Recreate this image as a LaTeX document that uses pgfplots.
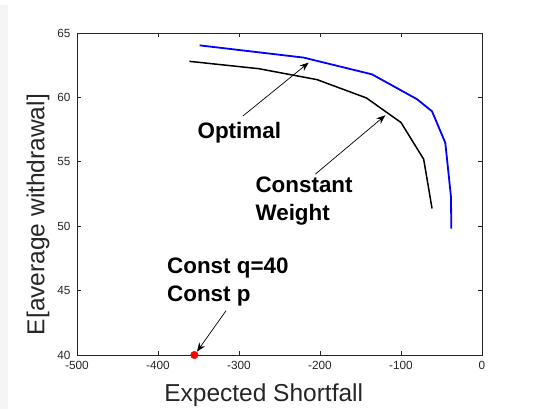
\documentclass[border=0pt]{standalone}
\usepackage{fontspec}
\setmainfont{Liberation Sans}
\usepackage{pgfplots}
\pgfplotsset{compat=1.18}
\usetikzlibrary{arrows.meta}

\definecolor{axgray}{RGB}{38,38,38}

\begin{document}
\begin{tikzpicture}
\begin{axis}[
    scale only axis,
    width=405pt, height=322pt,
    xmin=-500, xmax=0,
    ymin=40, ymax=65,
    xtick={-500,-400,...,0},
    ytick={40,45,...,65},
    major tick length=4pt,
    tick style={axgray, line width=0.6pt},
    axis line style={axgray, line width=0.8pt},
    /pgf/number format/assume math mode=true,
    ticklabel style={font=\fontsize{11.8}{12}\selectfont, text=axgray},
    xticklabel style={yshift=-3pt},
    yticklabel style={xshift=-3pt},
    xlabel={Expected Shortfall},
    ylabel={E[average withdrawal]},
    label style={font=\fontsize{24.5}{26}\selectfont, text=axgray},
    x label style={at={([yshift=-40pt]axis description cs:0.461,0)}, anchor=center},
    y label style={at={([xshift=-39pt]axis description cs:0,0.436)}, anchor=center},
    clip=false,
]
% Optimal
\addplot[blue, line width=1.8pt] coordinates {
    (-348.6,64.04) (-220.2,63.09) (-135.8,61.79) (-80.2,59.86)
    (-61.7,58.92) (-45.3,56.47) (-38.3,52.28) (-37.9,49.82)
};
% Constant weight
\addplot[black, line width=1.5pt] coordinates {
    (-361.3,62.80) (-275.7,62.23) (-203.7,61.38) (-142.8,59.96)
    (-100.0,58.05) (-72.0,55.20) (-61.7,51.38)
};
% Const q / Const p
\addplot[only marks, mark=*, red, mark size=3.8pt] coordinates {(-355.1,40)};

\draw[-{Stealth[length=9pt,width=7pt]}, line width=0.7pt] (axis cs:-295.1,58.56) -- (axis cs:-214.0,62.70);
\draw[-{Stealth[length=9pt,width=7pt]}, line width=0.7pt] (axis cs:-205.8,54.04) -- (axis cs:-119.3,58.61);
\draw[-{Stealth[length=9pt,width=7pt]}, line width=0.7pt] (axis cs:-316.0,43.44) -- (axis cs:-351.9,40.26);

\node[font=\bfseries\fontsize{22.4}{27.7}\selectfont, anchor=center] at (axis cs:-299.6,57.24) {Optimal};
\node[font=\bfseries\fontsize{22.4}{27.7}\selectfont, anchor=west, align=left, inner sep=0pt] at (axis cs:-279.8,51.93) {Constant\\Weight};
\node[font=\bfseries\fontsize{22.4}{27.7}\selectfont, anchor=west, align=left, inner sep=0pt] at (axis cs:-388.9,45.65) {Const q=40\\Const p};
\end{axis}
% faint window edge on the left
\fill[black!4] ([shift={(-77pt,-54pt)}]current axis.south west) rectangle ([shift={(-69pt,28pt)}]current axis.north west);
\path ([shift={(-77pt,-54pt)}]current axis.south west) rectangle ([shift={(53pt,33pt)}]current axis.north east);
\end{tikzpicture}
\end{document}
